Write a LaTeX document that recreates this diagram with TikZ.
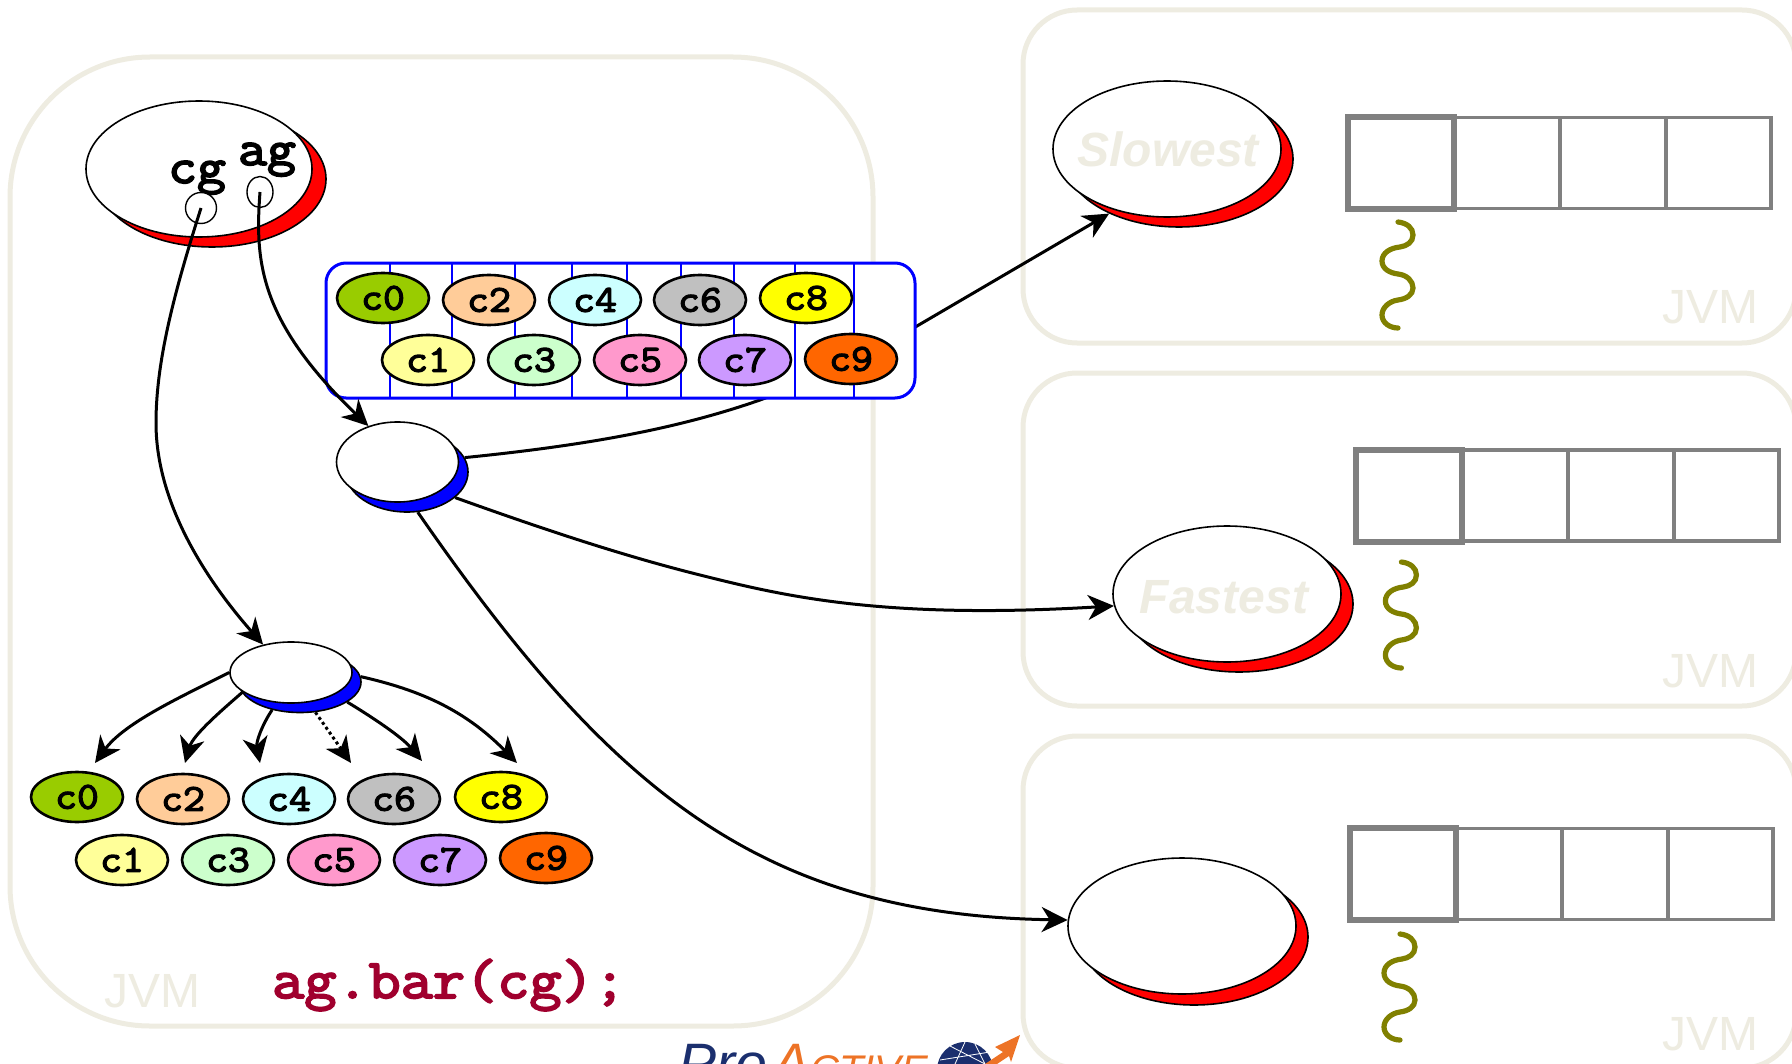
\documentclass[tikz,border=0pt]{standalone}
\usepackage{fontspec}
\setmainfont{Liberation Sans}
\newfontfamily\cf[FakeBold=3.5,FakeStretch=1.12]{Latin Modern Mono}
\newfontfamily\codef[FakeBold=3.5,FakeStretch=1.115]{Latin Modern Mono}
\usetikzlibrary{shapes.geometric,arrows.meta}
\definecolor{jvmc}{HTML}{EEECE1}
\definecolor{codec}{HTML}{A0002E}
\definecolor{navyc}{HTML}{1B2F6E}
\definecolor{orangec}{HTML}{ED7326}
\definecolor{olivec}{HTML}{808000}
\definecolor{c0col}{HTML}{99CC00}
\definecolor{c1col}{HTML}{FFFF99}
\definecolor{c2col}{HTML}{FFCC99}
\definecolor{c3col}{HTML}{CCFFCC}
\definecolor{c4col}{HTML}{CCFFFF}
\definecolor{c5col}{HTML}{FF99CC}
\definecolor{c6col}{HTML}{C0C0C0}
\definecolor{c7col}{HTML}{CC99FF}
\definecolor{c8col}{HTML}{FFFF00}
\definecolor{c9col}{HTML}{FF6600}
\tikzset{
 x=0.5pt,y=-0.5pt,
 jvm/.style={draw=jvmc,line width=2.5pt,fill=white},
 jvmlabel/.style={text=jvmc,font=\fontsize{24}{24}\selectfont,inner sep=0},
 ell/.style={ellipse,draw=black,line width=0.8pt,fill=white,inner sep=0},
 big/.style={ell,minimum width=114pt,minimum height=68pt},
 small/.style={ell,minimum width=61pt,minimum height=40pt},
 tiny/.style={ell,minimum width=61pt,minimum height=30.5pt},
 chip/.style={ellipse,draw=black,line width=1.3pt,fill=#1,inner sep=0,minimum width=46pt,minimum height=25pt,font=\cf\fontsize{19}{19}\selectfont},
 tip/.style={-{Stealth[length=13pt,width=12.5pt,inset=4pt]}},
 conn/.style={draw=black,line width=1.5pt,tip},
 cell/.style={draw=gray,line width=1.75pt},
 thickcell/.style={draw=gray,line width=3pt},
 squig/.style={draw=olivec,line width=2.6pt,line cap=round},
 slow/.style={text=jvmc,font=\bfseries\itshape\fontsize{24}{24}\selectfont,inner sep=0},
 var/.style={font=\cf\fontsize{25}{25}\selectfont,inner sep=0,anchor=base},
 hole/.style={ell,line width=0.7pt},
 vbar/.style={draw=blue,line width=1.3pt},
}
\begin{document}
\begin{tikzpicture}
\useasboundingbox (0,0) rectangle (1792,1064);
\clip (0,0) rectangle (1792,1064);
% JVM frames
\draw[jvm,rounded corners=70pt] (10,57) rectangle (873,1026);
\draw[jvm,rounded corners=27pt] (1023,10) rectangle (1796,343);
\draw[jvm,rounded corners=27pt] (1023,373) rectangle (1796,706);
\draw[jvm,rounded corners=27pt] (1023,736) rectangle (1796,1068);
\node[jvmlabel] (j0) at (152,991) {JVM};
\node[jvmlabel] (j1) at (1710,307) {JVM};
\node[jvmlabel] (j2) at (1710,671) {JVM};
\node[jvmlabel] (j3) at (1710,1034) {JVM};
% activity nodes (shadow then body)
\node[big,fill=red] (mainS) at (212,179) {};
\node[big,minimum width=113pt] (main) at (199,169) {};
\node[small,fill=blue] (bnS) at (407,472) {};
\node[small] (bn) at (397.5,462) {};
\node[tiny,fill=blue] (lowS) at (300,682) {};
\node[tiny] (low) at (291,672.5) {};
\node[big,fill=red] (r1S) at (1179,159) {};
\node[big] (r1) at (1167,149) {};
\node[big,fill=red] (r2S) at (1239,604) {};
\node[big] (r2) at (1227,594) {};
\node[big,fill=red] (r3S) at (1194,937) {};
\node[big] (r3) at (1182,926) {};
\node[slow] (t1) at (1168,149) {Slowest};
\node[slow] (t2) at (1224,597) {Fastest};
% main object content
\node[var] (cgl) at (197,183) {cg};
\node[var] (agl) at (267,165) {ag};
\node[hole,minimum width=15.5pt,minimum height=15.5pt] (cg) at (201,208) {};
\node[hole,minimum width=13pt,minimum height=15.5pt] (ag) at (260,192) {};
% connector behind the request queue
\draw[conn] (bnS.14) .. controls (590,445) and (680,428) .. (760,400) .. controls (810,382) and (860,360) .. (917,326) -- (r1S.218);
% request box
\draw[draw=blue,line width=1.5pt,fill=white,rounded corners=10pt] (326,263) rectangle (915,398);
\foreach \vx in {390,452,515,572,627,681,734,795,854} \draw[vbar] (\vx,263) -- (\vx,398);
\node[chip=c0col] (q0) at (383,298) {c0};
\node[chip=c2col] (q2) at (489,300) {c2};
\node[chip=c4col] (q4) at (595,300) {c4};
\node[chip=c6col] (q6) at (700,300) {c6};
\node[chip=c8col] (q8) at (806,298) {c8};
\node[chip=c1col] (q1) at (428,360) {c1};
\node[chip=c3col] (q3) at (534,360) {c3};
\node[chip=c5col] (q5) at (640,360) {c5};
\node[chip=c7col] (q7) at (745,360) {c7};
\node[chip=c9col] (q9) at (851,359) {c9};
% bottom chips
\node[chip=c0col] (b0) at (77,797) {c0};
\node[chip=c2col] (b2) at (183,799) {c2};
\node[chip=c4col] (b4) at (289,799) {c4};
\node[chip=c6col] (b6) at (394,799) {c6};
\node[chip=c8col] (b8) at (501,797) {c8};
\node[chip=c1col] (b1) at (122,860) {c1};
\node[chip=c3col] (b3) at (228,860) {c3};
\node[chip=c5col] (b5) at (334,860) {c5};
\node[chip=c7col] (b7) at (440,860) {c7};
\node[chip=c9col] (b9) at (546,858) {c9};
% connectors
\draw[conn] (cg.center) .. controls (175,290) and (156,360) .. (156,423) .. controls (156,510) and (215,590) .. (low.135);
\draw[conn] (ag.center) .. controls (255,260) and (258,320) .. (bn.129);
\draw[conn] (bnS.-28) .. controls (540,528) and (620,555) .. (700,575) .. controls (780,595) and (880,620) .. (r2.186);
\draw[conn] (bnS.-75) .. controls (610,790) and (760,915) .. (r3.177);
\coordinate (e0) at (95,763);
\coordinate (e2) at (185,763);
\coordinate (e4) at (260,763);
\coordinate (e5) at (351,763);
\coordinate (e6) at (422,761);
\coordinate (e8) at (517,763);
\draw[conn] (low.180) .. controls (185,695) and (125,722) .. (e0);
\draw[conn] (low.202) .. controls (222,710) and (193,735) .. (e2);
\draw[conn] (lowS.-135) .. controls (262,725) and (256,742) .. (e4);
\draw[draw=black,line width=1.5pt,dash pattern=on 1.5pt off 1.5pt,tip] (lowS.-63) -- (e5);
\draw[conn] (lowS.-23) .. controls (372,717) and (402,737) .. (e6);
\draw[conn] (lowS.5) .. controls (420,690) and (465,710) .. (e8);
% queues
\foreach \qx/\qy in {0/0,8/332.5,2/711}{
 \begin{scope}[shift={(\qx,\qy)}]
  \draw[cell] (1454,117.5) rectangle (1771,208.5);
  \draw[cell] (1560,117.5) -- (1560,208.5);
  \draw[cell] (1666,117.5) -- (1666,208.5);
  \draw[thickcell] (1348,117) rectangle (1454,209);
 \end{scope}
}
% threads
\foreach \qx/\qy in {0/0,3.4/340,2/712}{
 \draw[squig,shift={(\qx,\qy)}] (1398,222) .. controls (1407,223) and (1413,228) .. (1413,235) .. controls (1413,242) and (1407,246) .. (1400,247) .. controls (1390,248) and (1382,253) .. (1382,261) .. controls (1382,269) and (1390,273) .. (1398,274) .. controls (1407,275) and (1413,281) .. (1413,288) .. controls (1413,295) and (1406,299) .. (1398,300) .. controls (1390,301) and (1382,307) .. (1382,315) .. controls (1382,323) and (1390,328) .. (1398,328);
}
% code
\node[font=\codef\fontsize{28}{28}\selectfont,text=codec,inner sep=0] (code) at (449,985) {ag.bar(cg);};
% logo
\node[anchor=base west,inner sep=0,text=navyc,font=\itshape\fontsize{28.5}{28.5}\selectfont] (pro) at (678,1083) {Pro};
\node[anchor=base west,inner sep=0,text=orangec,font=\itshape\fontsize{28.5}{28.5}\selectfont] (act) at (772,1083) {A\fontsize{20}{20}\selectfont CTIVE};
\fill[navyc] (965,1070) circle (14pt);
\draw[white,line width=0.4pt] (940,1060) -- (990,1052) (950,1046) -- (985,1064) (965,1042) -- (955,1064) (975,1044) -- (985,1064);
\fill[orangec] (1020,1035) -- (995,1047) -- (1003,1052) -- (985,1064) -- (997,1064) -- (1009,1056) -- (1011,1062) -- cycle;
\end{tikzpicture}
\end{document}
